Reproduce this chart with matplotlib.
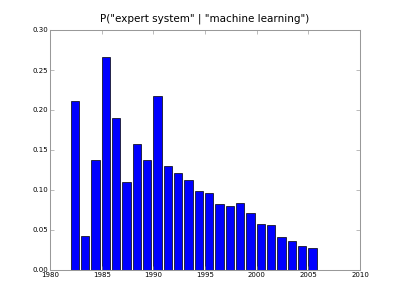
import numpy as np
import matplotlib
matplotlib.use('Agg')
import matplotlib.pyplot as plt

years = list(range(1982, 2006))
probs = [0.211, 0.043, 0.137, 0.266, 0.190, 0.110, 0.158, 0.137,
         0.218, 0.130, 0.121, 0.112, 0.099, 0.096, 0.082, 0.080,
         0.084, 0.071, 0.058, 0.056, 0.041, 0.036, 0.030, 0.028]

fig = plt.figure(figsize=(8, 6), dpi=50)
ax = fig.add_subplot(111)
fig.subplots_adjust(left=0.125, right=0.9, bottom=0.1, top=0.9)

ax.bar(years, probs, width=0.8, align='edge', color='blue', edgecolor='black', linewidth=1.0)

ax.set_xlim(1980, 2010)
ax.set_ylim(0, 0.30)
ax.set_xticks(range(1980, 2011, 5))
ax.set_yticks(np.arange(0, 0.31, 0.05))
ax.yaxis.set_major_formatter(matplotlib.ticker.FormatStrFormatter('%.2f'))
ax.tick_params(direction='in', top=True, right=True, labelsize=10, length=6,
               color='#888888', pad=3)
for s in ax.spines.values():
    s.set_color('#999999')
    s.set_linewidth(1.5)
ax.set_title('P("expert system" | "machine learning")', fontsize=15, pad=12)

fig.savefig('out.png', dpi=50)
